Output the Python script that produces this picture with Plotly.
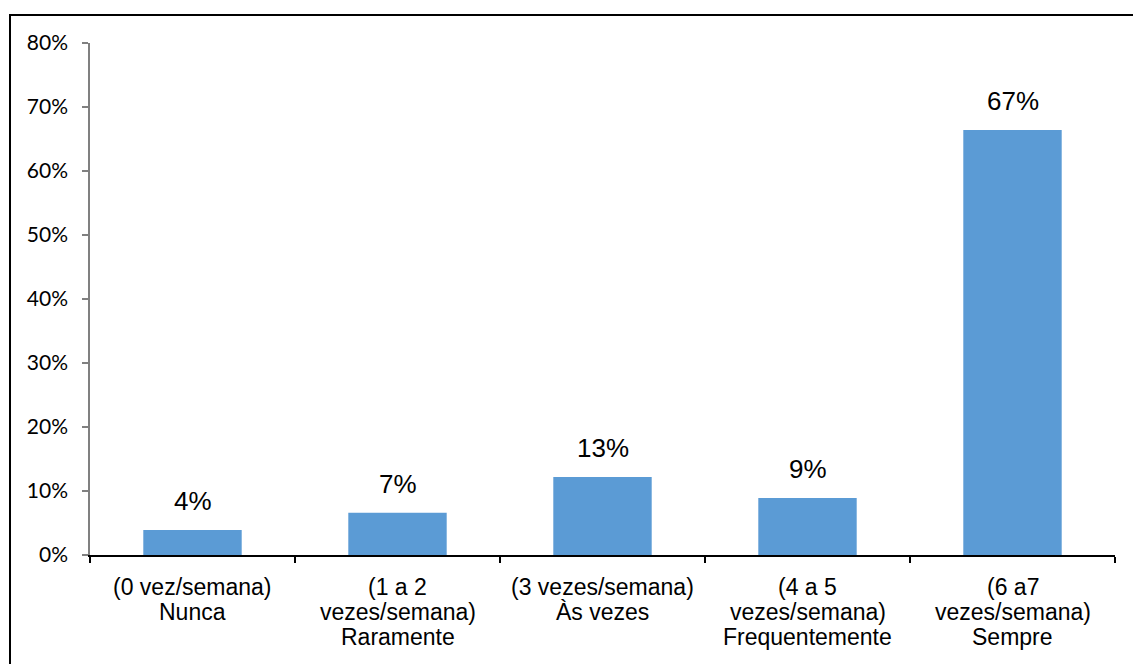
import plotly.graph_objects as go

categories = [
    "(0 vez/semana) Nunca",
    "(1 a 2 vezes/semana) Raramente",
    "(3 vezes/semana) Às vezes",
    "(4 a 5 vezes/semana) Frequentemente",
    "(6 a7 vezes/semana) Sempre",
]
category_lines = [
    ["(0 vez/semana)", "Nunca"],
    ["(1 a 2", "vezes/semana)", "Raramente"],
    ["(3 vezes/semana)", "Às vezes"],
    ["(4 a 5", "vezes/semana)", "Frequentemente"],
    ["(6 a7", "vezes/semana)", "Sempre"],
]
values = [3.9, 6.6, 12.2, 8.9, 66.4]
value_labels = ["4%", "7%", "13%", "9%", "67%"]
y_ticks = [0, 10, 20, 30, 40, 50, 60, 70, 80]
y_tick_labels = ["0%", "10%", "20%", "30%", "40%", "50%", "60%", "70%", "80%"]

fig = go.Figure()
fig.add_trace(go.Bar(
    x=categories, y=values, width=0.48,
    marker=dict(color="#5B9BD5", line=dict(width=0)),
    hoverinfo="skip",
))

for c, v, t in zip(categories, values, value_labels):
    fig.add_annotation(x=c, y=v, text=t, showarrow=False, yanchor="bottom",
                       yshift=12, font=dict(family="Liberation Sans, Arial", size=26, color="#000"))

for c, lines in zip(categories, category_lines):
    for i, line in enumerate(lines):
        fig.add_annotation(x=c, y=0, text=line, showarrow=False, yanchor="middle",
                           yshift=-32 - 25 * i,
                           font=dict(family="Liberation Sans, Arial", size=23, color="#000"))

fig.update_layout(
    width=1133, height=664,
    margin=dict(l=90, r=18, t=43, b=109),
    plot_bgcolor="white", paper_bgcolor="white",
    showlegend=False,
    bargap=0.52,
)
fig.update_yaxes(
    range=[0, 80], tickvals=y_ticks, ticktext=y_tick_labels,
    showgrid=False, zeroline=False,
    showline=True, linecolor="#808080", linewidth=1.5,
    ticks="outside", ticklen=6, tickcolor="#808080", tickwidth=1.5,
    ticklabelstandoff=10,
    tickfont=dict(family="Lato", size=21, color="#000"),
)
fig.update_xaxes(
    showgrid=False, showline=True, linecolor="#000", linewidth=1.5,
    ticks="outside", ticklen=6, tickcolor="#000", tickwidth=1.5,
    tickson="boundaries", showticklabels=False,
)
# outer frame
fig.add_shape(type="rect", xref="paper", yref="paper",
              x0=-80/1025, x1=1.2, y0=-0.4, y1=(555-15)/512,
              line=dict(color="#000", width=2), fillcolor="rgba(0,0,0,0)", layer="below")

fig.write_html("out.html")
